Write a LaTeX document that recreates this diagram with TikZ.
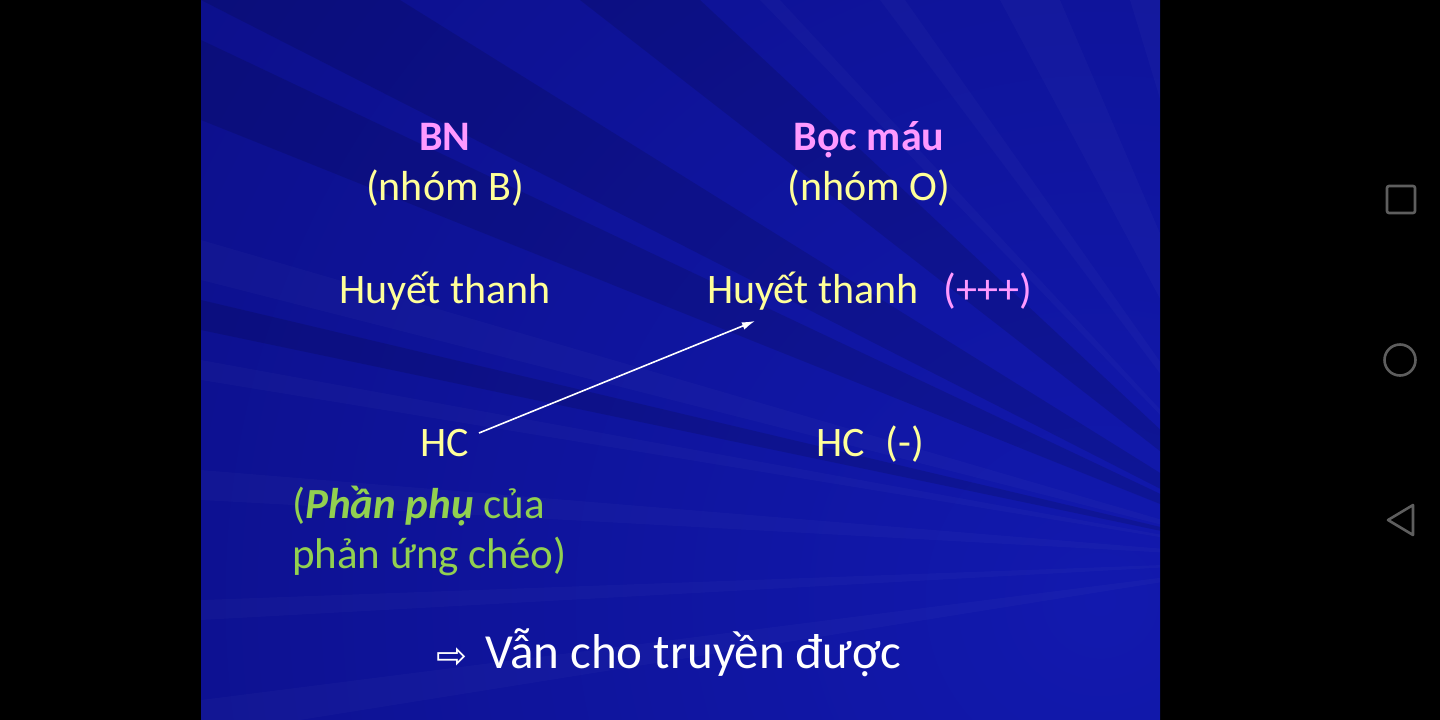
\documentclass[tikz,border=0pt]{standalone}
\usepackage{fontspec}
\usetikzlibrary{arrows.meta}
\setmainfont{Carlito}
\newfontfamily\symfont{DejaVu Sans}
\definecolor{slideyellow}{HTML}{FFFF99}
\definecolor{slidepink}{HTML}{FF99FF}
\definecolor{slidegreen}{HTML}{92D050}
\definecolor{navgray}{HTML}{5E5E5E}
\definecolor{bluelight}{HTML}{1219AE}
\definecolor{bluedark}{HTML}{07076C}
\definecolor{bluebase}{HTML}{0A0A8E}
\begin{document}
\begin{tikzpicture}[x=1pt,y=-1pt,
  txt/.style={inner sep=0pt,font=\fontsize{42}{50}\selectfont},
  ylw/.style={txt,text=slideyellow},
  pnk/.style={txt,text=slidepink,font=\fontsize{42}{50}\selectfont\bfseries},
  grn/.style={txt,text=slidegreen,anchor=base west,font=\fontsize{43}{50}\selectfont},
  navicon/.style={draw=navgray,line width=2.6pt},
  ray/.style={fill=white,opacity=0.025},
  shadow/.style={fill=black,opacity=0.12}]
\useasboundingbox (0,0) rectangle (1440,720);
\fill[black] (0,0) rectangle (1440,720);
% slide background
\begin{scope}
  \clip (201,0) rectangle (1160,720);
  \fill[bluebase] (201,0) rectangle (1160,720);
  \shade[inner color=bluelight,outer color=bluedark] (1100,600) circle (2100);
  \fill[shadow] (1300,560) -- (580,0) -- (700,0) -- cycle;
  \fill[shadow] (1300,560) -- (201,40) -- (201,120) -- cycle;
  \fill[shadow] (1300,560) -- (201,300) -- (201,330) -- cycle;
  \fill[shadow] (1300,560) -- (201,0) -- (400,0) -- cycle;
  \fill[ray] (1300,560) -- (1000,0) -- (1060,0) -- cycle;
  \fill[ray] (1300,560) -- (880,0) -- (905,0) -- cycle;
  \fill[ray] (1300,560) -- (201,240) -- (201,280) -- cycle;
  \fill[ray] (1300,560) -- (201,360) -- (201,380) -- cycle;
  \fill[ray] (1300,560) -- (201,470) -- (201,500) -- cycle;
  \fill[ray] (1300,560) -- (201,600) -- (201,620) -- cycle;
  \fill[ray] (1300,560) -- (201,700) -- (201,720) -- (300,720) -- cycle;
  \fill[ray] (1300,560) -- (1130,0) -- (1160,0) -- cycle;
  \fill[ray] (1300,560) -- (760,0) -- (780,0) -- cycle;
\end{scope}
% texts
\node[pnk,anchor=base] (bn) at (445,150) {BN};
\node[ylw,anchor=base] (nhomB) at (445,200) {(nhóm B)};
\node[pnk,anchor=base] (bocmau) at (869,150) {Bọc máu};
\node[ylw,anchor=base] (nhomO) at (869,200) {(nhóm O)};
\node[ylw,anchor=base] (htL) at (445,303) {Huyết thanh};
\node[ylw,anchor=base west] (htR) at (707,303) {Huyết thanh\hspace{0.6em}\textcolor{slidepink}{(+++)}};
\node[ylw,anchor=base] (hcL) at (445,456) {HC};
\node[ylw,anchor=base west] (hcR) at (816,456) {HC\hspace{0.5em}(-)};
\node[grn] (pp1) at (292,518) {(\textbf{\textit{Phần phụ}} của};
\node[grn] (pp2) at (292,568) {phản ứng chéo)};
\node[txt,text=white,anchor=base west,font=\fontsize{49}{58}\selectfont] (concl) at (485,668) {Vẫn cho truyền được};
\node[inner sep=0pt,text=white,anchor=base east,font=\symfont\fontsize{37}{37}\selectfont] (impl) at (468,668) {⇨};
% arrow
\coordinate (arrstart) at (479,433);
\coordinate (arrend) at (755,321);
\draw[white,line width=1.6pt,-{Latex[length=13pt,width=8pt]}] (arrstart) -- (arrend);
% navigation icons
\draw[navicon,rounded corners=2pt] (1387,186) rectangle (1415,213);
\draw[navicon] (1400,360) circle (15.5);
\draw[navicon,line join=round] (1388,520) -- (1413,505) -- (1413,535) -- cycle;
\end{tikzpicture}
\end{document}
